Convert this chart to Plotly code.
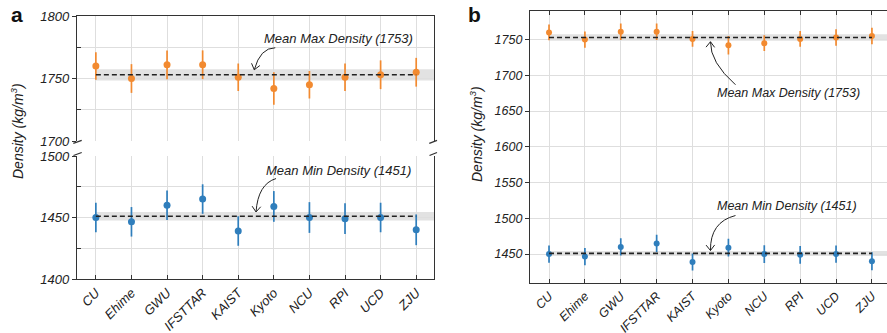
import numpy as np
import plotly.graph_objects as go

W, H = 887, 333

categories = ["CU", "Ehime", "GWU", "IFSTTAR", "KAIST", "Kyoto", "NCU", "RPI", "UCD", "ZJU"]
max_density = [1760, 1750, 1761, 1761, 1751, 1742, 1745, 1751, 1753, 1755]
max_err = [11, 11.5, 11.5, 11.5, 11, 13, 11, 11, 11.5, 11.5]
min_density = [1450, 1446.5, 1460, 1465, 1439, 1459, 1450, 1449, 1450, 1440]
min_err = [12, 12, 12, 12, 12, 12.5, 12.5, 12.5, 12, 12.5]
mean_max = 1753
mean_min = 1451
band_max = 4.5
band_min = 3.5

ORANGE = "#f28a30"
BLUE = "#2f7ebc"
GRID = "#dedede"
AX = "#333333"
BAND = "#e2e2e2"
FONT = "Liberation Sans, Arial, sans-serif"

idx = list(range(len(categories)))


def px(x):
    return x / W


def py(y):
    return 1 - y / H


fig = go.Figure()


def add_series(xa, ya, vals, errs, color, msize):
    fig.add_trace(go.Scatter(
        x=idx, y=vals, mode="markers", xaxis=xa, yaxis=ya,
        marker=dict(color=color, size=msize, line=dict(width=0)),
        error_y=dict(type="data", array=errs, visible=True, color=color,
                     thickness=1.7, width=0),
        showlegend=False, hoverinfo="skip"))


def add_mean(xa, ya, mean):
    fig.add_trace(go.Scatter(
        x=[idx[0], idx[-1]], y=[mean, mean], mode="lines", xaxis=xa, yaxis=ya,
        line=dict(color="#222222", width=1.6, dash="5px,3px"),
        showlegend=False, hoverinfo="skip"))


# panel a
add_series("x", "y", max_density, max_err, ORANGE, 7)
add_mean("x", "y", mean_max)
add_series("x2", "y2", min_density, min_err, BLUE, 7)
add_mean("x2", "y2", mean_min)
# panel b
add_series("x3", "y3", max_density, max_err, ORANGE, 6)
add_mean("x3", "y3", mean_max)
add_series("x3", "y3", min_density, min_err, BLUE, 6)
add_mean("x3", "y3", mean_min)

shapes = []
annotations = []


def band(xref, yref, mean, half, xend):
    shapes.append(dict(type="rect", xref=xref, yref=yref, x0=idx[0], x1=xend,
                       y0=mean - half, y1=mean + half, fillcolor=BAND,
                       line=dict(width=0), layer="below"))


band("x", "y", mean_max, band_max, 9.5)
band("x2", "y2", mean_min, band_min, 9.5)
band("x3", "y3", mean_max, band_max, 9.6)
band("x3", "y3", mean_min, band_min, 9.6)


def curved_arrow(xref, yref, ax, ay, start, ctrl, text, tshift, fsize, angle=38, length=7):
    path = f"M {start[0]},{start[1]} Q {ctrl[0]},{ctrl[1]} 0,0"
    u = np.array(ctrl, dtype=float)
    u = u / np.linalg.norm(u)
    arms = []
    for s in (1, -1):
        a = np.radians(angle) * s
        r = np.array([u[0] * np.cos(a) - u[1] * np.sin(a), u[0] * np.sin(a) + u[1] * np.cos(a)]) * length
        arms.append(r)
    head = f"M {arms[0][0]:.2f},{arms[0][1]:.2f} L 0,0 L {arms[1][0]:.2f},{arms[1][1]:.2f}"
    for p in (path, head):
        shapes.append(dict(type="path", xref=xref, yref=yref, xsizemode="pixel", ysizemode="pixel",
                           xanchor=ax, yanchor=ay, path=p, line=dict(color="#222222", width=1)))
    annotations.append(dict(x=ax, y=ay, xref=xref, yref=yref, xshift=tshift[0], yshift=tshift[1],
                            text=text, showarrow=False,
                            font=dict(family=FONT, size=fsize, color="#222222", style="italic")))


curved_arrow("x", "y", 4.45, 1757, (21, 22), (6, 22), f"Mean Max Density ({mean_max})", (84, 31), 13)
curved_arrow("x2", "y2", 4.5, 1454.5, (20, 33.4), (2, 28), f"Mean Min Density ({mean_min})", (82, 41.7), 13)
curved_arrow("x3", "y3", 4.5, 1747, (25, -43), (-0.5, -20.5), f"Mean Max Density ({mean_max})", (78, -51), 12.5)
curved_arrow("x3", "y3", 4.5, 1455, (25, 35), (-0.5, 28.5), f"Mean Min Density ({mean_min})", (77, 44.3), 12.5)

# axis-break marks (panel a)
for (x0, y0, x1, y1) in [(73.3, 143.3, 81.7, 140.3), (73.5, 155.5, 81.7, 152.5),
                         (429.3, 143.3, 437.0, 140.3), (429.5, 155.5, 437.0, 152.5)]:
    shapes.append(dict(type="line", xref="paper", yref="paper", x0=px(x0), y0=py(y0),
                       x1=px(x1), y1=py(y1), line=dict(color=AX, width=1.3)))

# y titles & panel labels
ytitle = "Density (kg/m<sup>3</sup>)"
for (x, y) in [(17, 131), (476, 134)]:
    annotations.append(dict(x=px(x), y=py(y), xref="paper", yref="paper", text=ytitle,
                            textangle=-90, showarrow=False, xanchor="center", yanchor="middle",
                            font=dict(family=FONT, size=14, color="#222222", style="italic")))
for (x, y, t) in [(17, 15, "a"), (475, 15, "b")]:
    annotations.append(dict(x=px(x), y=py(y), xref="paper", yref="paper", text=f"<b>{t}</b>",
                            showarrow=False, xanchor="center", yanchor="middle",
                            font=dict(family=FONT, size=21, color="#111111")))

tickfont_a = dict(family=FONT, size=13, color="#222222", style="italic")
tickfont_b = dict(family=FONT, size=12.5, color="#222222", style="italic")

common_x = dict(tickmode="array", tickvals=idx, showgrid=True, gridcolor=GRID, gridwidth=1,
                showline=True, linecolor=AX, linewidth=1.3, zeroline=False,
                tickcolor=AX, tickwidth=1.2, automargin=False)
common_y = dict(showgrid=True, gridcolor=GRID, gridwidth=1, showline=True, linecolor=AX,
                linewidth=1.3, zeroline=False, ticks="outside", ticklen=4, tickcolor=AX, tickwidth=1.2,
                automargin=False)

fig.update_layout(
    width=W, height=H, margin=dict(l=0, r=0, t=0, b=0, autoexpand=False),
    paper_bgcolor="white", plot_bgcolor="white",
    shapes=shapes, annotations=annotations,
    xaxis=dict(common_x, domain=[px(77), px(434)], anchor="y", range=[-0.53, 9.5],
               side="top", showticklabels=False, ticks=""),
    yaxis=dict(common_y, domain=[py(141), py(16)], anchor="x", range=[1700, 1800],
               tickmode="array", tickvals=[1700, 1750, 1800], mirror=True, tickfont=tickfont_a,
               minor=dict(tickmode="array", tickvals=[1725, 1775], showgrid=True, gridcolor=GRID,
                          ticks="inside", ticklen=4, tickcolor=AX)),
    xaxis2=dict(common_x, domain=[px(77), px(434)], anchor="y2", range=[-0.53, 9.5],
                ticktext=categories, tickangle=-45, ticks="inside", ticklen=4, tickfont=tickfont_a),
    yaxis2=dict(common_y, domain=[py(279), py(156)], anchor="x2", range=[1400, 1500],
                tickmode="array", tickvals=[1400, 1450, 1500], mirror=True, tickfont=tickfont_a,
                minor=dict(tickmode="array", tickvals=[1425, 1475], showgrid=True, gridcolor=GRID,
                           ticks="inside", ticklen=4, tickcolor=AX)),
    xaxis3=dict(common_x, domain=[px(530), 1.0], anchor="y3", range=[-0.53, 9.42],
                ticktext=categories, tickangle=-45, ticks="inside", ticklen=4, mirror="ticks",
                tickfont=tickfont_b),
    yaxis3=dict(common_y, domain=[py(282.7), py(11)], anchor="x3", range=[1410, 1790],
                tickmode="array", tickvals=[1450, 1500, 1550, 1600, 1650, 1700, 1750],
                mirror=False, tickfont=tickfont_b),
)

fig.write_html("out.html", config={"displayModeBar": False},
               post_script="document.body.style.margin='0px';document.body.style.overflow='hidden';")
